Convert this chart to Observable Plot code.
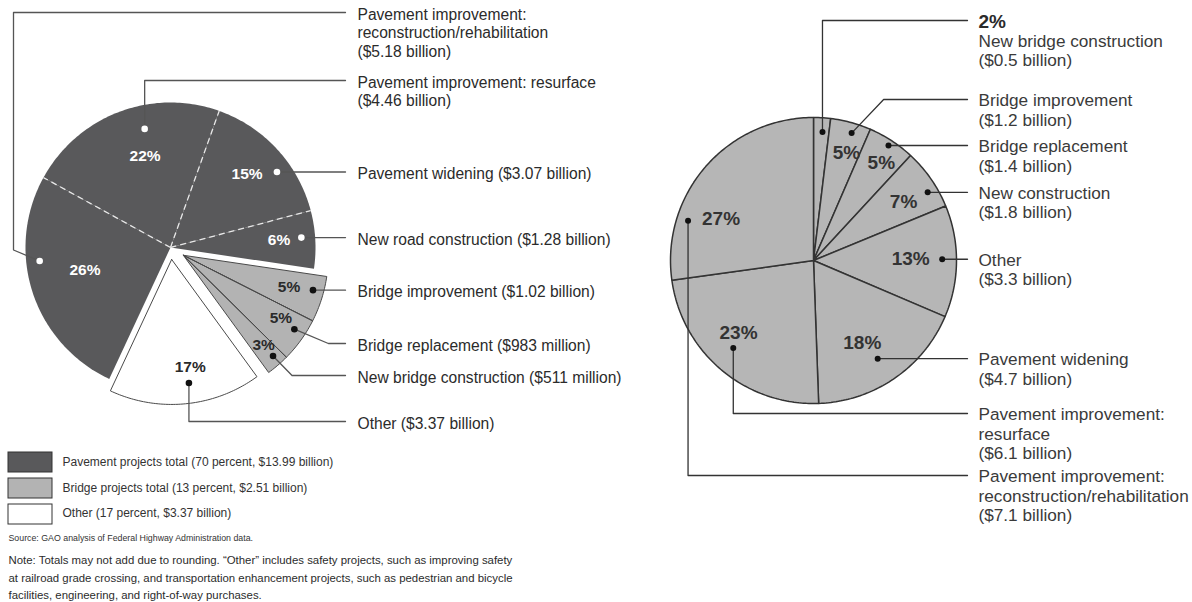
<!DOCTYPE html>
<html><head><meta charset="utf-8">
<script src="https://cdn.jsdelivr.net/npm/d3@7"></script>
<script src="https://cdn.jsdelivr.net/npm/@observablehq/plot@0.6"></script>
<style>body{margin:0;background:#fff;} #chart svg{display:block;}</style>
</head><body><div id="chart"></div>
<script>
// ---------------- DATA ----------------
const leftCategories = ["Pavement improvement: reconstruction/rehabilitation", "Pavement improvement: resurface", "Pavement widening", "New road construction", "Bridge improvement", "Bridge replacement", "New bridge construction", "Other"];
const leftGroups = ["Pavement", "Pavement", "Pavement", "Pavement", "Bridge", "Bridge", "Bridge", "Other"];
const leftValues = [5.18, 4.46, 3.07, 1.28, 1.02, 0.983, 0.511, 3.37]; // $ billions
const leftLabelLines = [
  ["Pavement improvement:", "reconstruction/rehabilitation", "($5.18 billion)"],
  ["Pavement improvement: resurface", "($4.46 billion)"],
  ["Pavement widening ($3.07 billion)"],
  ["New road construction ($1.28 billion)"],
  ["Bridge improvement ($1.02 billion)"],
  ["Bridge replacement ($983 million)"],
  ["New bridge construction ($511 million)"],
  ["Other ($3.37 billion)"]
];
const rightCategories = ["New bridge construction", "Bridge improvement", "Bridge replacement", "New construction", "Other", "Pavement widening", "Pavement improvement: resurface", "Pavement improvement: reconstruction/rehabilitation"];
const rightValues = [0.5, 1.2, 1.4, 1.8, 3.3, 4.7, 6.1, 7.1]; // $ billions
const rightLabelLines = [
  ["New bridge construction", "($0.5 billion)"],
  ["Bridge improvement", "($1.2 billion)"],
  ["Bridge replacement", "($1.4 billion)"],
  ["New construction", "($1.8 billion)"],
  ["Other", "($3.3 billion)"],
  ["Pavement widening", "($4.7 billion)"],
  ["Pavement improvement:", "resurface", "($6.1 billion)"],
  ["Pavement improvement:", "reconstruction/rehabilitation", "($7.1 billion)"]
];
const legendGroups = ["Pavement", "Bridge", "Other"];
const legendLabels = ["Pavement projects total (70 percent, $13.99 billion)", "Bridge projects total (13 percent, $2.51 billion)", "Other (17 percent, $3.37 billion)"];
const sourceText = "Source: GAO analysis of Federal Highway Administration data.";
const noteLines = [
  "Note: Totals may not add due to rounding. \u201cOther\u201d includes safety projects, such as improving safety",
  "at railroad grade crossing, and transportation enhancement projects, such as pedestrian and bicycle",
  "facilities, engineering, and right-of-way purchases."
];

// ---------------- LAYOUT / STYLE ----------------
const W = 1192, H = 602;
const FONT = "'Liberation Sans', Arial, Helvetica, sans-serif";
const groupFill = {Pavement: "#59595b", Bridge: "#b3b3b3", Other: "#ffffff"};
const LP = {cx: 170, cy: 247, r: 145, start: -155, explode: {Pavement: 0, Bridge: 15, Other: 12}, leaderEnd: 345, labelX: 357, lineH: 18.5};
const RP = {cx: 813, cy: 260, r: 143, start: 0, leaderEnd: 967, labelX: 978, lineH: 19.5};
// dot / percent-label placement inside each slice: [fraction of slice angle, fraction of radius]
const leftDotPos = [[0.63, 0.907], [0.605, 0.837], [0.63, 0.90], [0.45, 0.905], [0.36, 0.926], [0.38, 0.92], [0.39, 0.93], [0.46, 0.86]];
const leftPctPos = [[0.537, 0.61], [0.565, 0.655], [0.48, 0.73], [0.46, 0.75], [0.44, 0.76], [0.33, 0.80], [0.37, 0.83], [0.43, 0.75]];
const leftLeader = [
  {kind: "around", x: 13, dy: -11, y: 12},
  {kind: "vertical", y: 80},
  {kind: "flat"}, {kind: "flat"}, {kind: "flat"},
  {kind: "diag", dx: 34, y: 343},
  {kind: "diag", dx: 19, y: 375},
  {kind: "vertical", y: 421}
];
const rightDotPos = [[0.58, 0.90], [0.59, 0.93], [0.50, 0.96], [0.66, 0.93], [0.48, 0.90], [0.52, 0.82], [0.53, 0.83], [0.26, 0.92]];
const rightPctPos = [null, [0.61, 0.79], [0.59, 0.83], [0.58, 0.75], [0.47, 0.68], [0.56, 0.67], [0.57, 0.73], [0.33, 0.71]];
const rightLeader = [
  {kind: "vertical", y: 20},
  {kind: "diag", dx: 32, y: 99},
  {kind: "flat"}, {kind: "flat"}, {kind: "flat"}, {kind: "flat"},
  {kind: "vertical", y: 413},
  {kind: "vertical", y: 475}
];

// ---------------- GEOMETRY ----------------
const deg = Math.PI / 180;
const polar = (cx, cy, r, a) => [cx + r * Math.sin(a * deg), cy - r * Math.cos(a * deg)];

function slices(values, start) {
  const total = d3.sum(values);
  let acc = start;
  return values.map((v, i) => {
    const a0 = acc, a1 = acc + v / total * 360;
    acc = a1;
    return {i, v, a0, a1, pct: Math.round(v / total * 100) + "%"};
  });
}
function arcPoly(id, cx, cy, r, a0, a1) {
  const n = Math.max(2, Math.ceil(Math.abs(a1 - a0)));
  const pts = [{id, x: cx, y: cy}];
  for (let k = 0; k <= n; k++) {
    const [x, y] = polar(cx, cy, r, a0 + (a1 - a0) * k / n);
    pts.push({id, x, y});
  }
  pts.push({id, x: cx, y: cy});
  return pts;
}
function leaderPts(id, dot, ld, endX) {
  let p;
  if (ld.kind === "flat") p = [dot, [endX, dot[1]]];
  else if (ld.kind === "vertical") p = [dot, [dot[0], ld.y], [endX, ld.y]];
  else if (ld.kind === "diag") p = [dot, [dot[0] + ld.dx, ld.y], [endX, ld.y]];
  else p = [dot, [ld.x, dot[1] + ld.dy], [ld.x, ld.y], [endX, ld.y]];
  return p.map(([x, y]) => ({id, x, y}));
}

// Left pie
const L = slices(leftValues, LP.start);
L.forEach(s => s.group = leftGroups[s.i]);
const gExt = d3.rollup(L, s => [d3.min(s, d => d.a0), d3.max(s, d => d.a1)], d => d.group);
L.forEach(s => {
  const [g0, g1] = gExt.get(s.group);
  const [ox, oy] = polar(LP.cx, LP.cy, LP.explode[s.group], (g0 + g1) / 2);
  s.cx = ox; s.cy = oy;
  const at = (t, rf) => polar(s.cx, s.cy, LP.r * rf, s.a0 + (s.a1 - s.a0) * t);
  s.dot = at(...leftDotPos[s.i]);
  s.pctXY = at(...leftPctPos[s.i]);
  s.dark = s.group === "Pavement";
});
const leftPolys = g => L.filter(s => s.group === g).flatMap(s => arcPoly(s.i, s.cx, s.cy, LP.r, s.a0, s.a1));
const pavementSeps = L.filter(s => s.group === "Pavement" && s.i < 3).map(s => {
  const [x2, y2] = polar(s.cx, s.cy, LP.r, s.a1);
  return {x1: s.cx, y1: s.cy, x2, y2};
});
const bridgeSeps = L.filter(s => s.group === "Bridge" && s.i < 6).map(s => {
  const [x2, y2] = polar(s.cx, s.cy, LP.r, s.a1);
  return {x1: s.cx, y1: s.cy, x2, y2};
});
const leftLeaders = L.flatMap(s => leaderPts(s.i, s.dot, leftLeader[s.i], LP.leaderEnd));
const leftText = L.flatMap(s => {
  const ld = leftLeader[s.i];
  const y0 = (ld.kind === "flat" ? s.dot[1] : ld.y) + 2;
  return leftLabelLines[s.i].map((t, k) => ({t, x: LP.labelX, y: y0 + k * LP.lineH}));
});

// Right pie
const R = slices(rightValues, RP.start);
R.forEach(s => {
  const at = (t, rf) => polar(RP.cx, RP.cy, RP.r * rf, s.a0 + (s.a1 - s.a0) * t);
  s.dot = at(...rightDotPos[s.i]);
  s.pctXY = rightPctPos[s.i] ? at(...rightPctPos[s.i]) : null;
});
const rightPolys = R.flatMap(s => arcPoly(s.i, RP.cx, RP.cy, RP.r, s.a0, s.a1));
const rightLeaders = R.flatMap(s => leaderPts(s.i, s.dot, rightLeader[s.i], RP.leaderEnd));
const rightText = R.flatMap(s => {
  const ld = rightLeader[s.i];
  const y0 = (ld.kind === "flat" ? s.dot[1] : ld.y) + 1;
  const lines = s.pctXY ? rightLabelLines[s.i] : [null, ...rightLabelLines[s.i]];
  return lines.map((t, k) => ({t: t === null ? s.pct : t, bold: t === null, x: RP.labelX, y: y0 + k * RP.lineH}));
});

// Legend & notes
const legendRows = legendLabels.map((t, i) => ({t, g: legendGroups[i], i}));

const chart = Plot.plot({
  width: W, height: H, margin: 0,
  x: {domain: [0, W], range: [0, W], axis: null},
  y: {domain: [0, H], range: [0, H], axis: null},
  color: {type: "identity"},
  style: {fontFamily: FONT, background: "#fff"},
  marks: [
    // left pie
    Plot.line(leftPolys("Pavement"), {x: "x", y: "y", z: "id", fill: groupFill.Pavement, stroke: "none"}),
    Plot.line(leftPolys("Bridge"), {x: "x", y: "y", z: "id", fill: groupFill.Bridge, stroke: "#4a4a4a", strokeWidth: 1, strokeLinejoin: "miter"}),
    Plot.line(leftPolys("Other"), {x: "x", y: "y", z: "id", fill: groupFill.Other, stroke: "#4a4a4a", strokeWidth: 1, strokeLinejoin: "miter"}),
    Plot.link(pavementSeps, {x1: "x1", y1: "y1", x2: "x2", y2: "y2", stroke: "#e8e8e8", strokeWidth: 1.3, strokeDasharray: "6,4"}),
    Plot.link(bridgeSeps, {x1: "x1", y1: "y1", x2: "x2", y2: "y2", stroke: "#4a4a4a", strokeWidth: 1}),
    Plot.line(leftLeaders, {x: "x", y: "y", z: "id", stroke: "#555", strokeWidth: 1.3}),
    Plot.dot(L, {x: d => d.dot[0], y: d => d.dot[1], r: 3.3, fill: d => d.dark ? "#fff" : "#111", stroke: "none"}),
    Plot.text(L, {x: d => d.pctXY[0], y: d => d.pctXY[1], text: "pct", fill: d => d.dark ? "#fff" : "#2a2a2a", fontSize: 15.5, fontWeight: "bold"}),
    Plot.text(leftText, {x: "x", y: "y", text: "t", textAnchor: "start", fontSize: 15.6, fill: "#2b2b2b"}),
    // right pie
    Plot.line(rightPolys, {x: "x", y: "y", z: "id", fill: "#b6b6b6", stroke: "#333", strokeWidth: 1.5, strokeLinejoin: "miter"}),
    Plot.line(rightLeaders, {x: "x", y: "y", z: "id", stroke: "#333", strokeWidth: 1.3}),
    Plot.dot(R, {x: d => d.dot[0], y: d => d.dot[1], r: 3, fill: "#111", stroke: "none"}),
    Plot.text(R.filter(d => d.pctXY), {x: d => d.pctXY[0], y: d => d.pctXY[1], text: "pct", fill: "#333", fontSize: 19, fontWeight: "bold"}),
    Plot.text(rightText.filter(d => !d.bold), {x: "x", y: "y", text: "t", textAnchor: "start", fontSize: 17.2, fill: "#3a3a3a"}),
    Plot.text(rightText.filter(d => d.bold), {x: "x", y: "y", text: "t", textAnchor: "start", fontSize: 19, fontWeight: "bold", fill: "#2a2a2a"}),
    // legend
    Plot.rect(legendRows, {x1: 8, x2: 52, y1: d => 452 + d.i * 26, y2: d => 472 + d.i * 26, fill: d => groupFill[d.g], stroke: "#333", strokeWidth: 1}),
    Plot.text(legendRows, {x: 62, y: d => 462 + d.i * 25.5, text: "t", textAnchor: "start", fontSize: 12, fill: "#333"}),
    Plot.text([sourceText], {x: 8, y: 538, text: d => d, textAnchor: "start", fontSize: 8.8, fill: "#333"}),
    Plot.text(noteLines.map((t, i) => ({t, i})), {x: 8, y: d => 560 + d.i * 17.5, text: "t", textAnchor: "start", fontSize: 11.4, fill: "#2b2b2b"})
  ]
});
document.getElementById("chart").appendChild(chart);
</script>
</body></html>
